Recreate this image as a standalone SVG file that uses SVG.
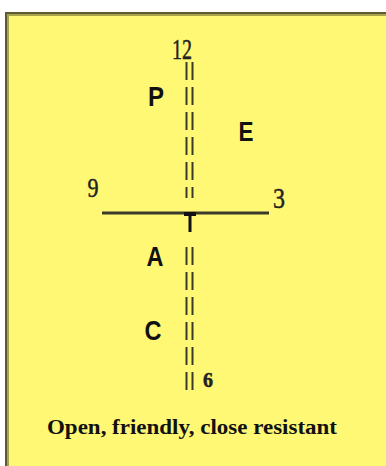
<svg xmlns="http://www.w3.org/2000/svg" width="386" height="466" viewBox="0 0 386 466">
  <style>
    .letter { font-family: "Liberation Sans", Arial, sans-serif; font-weight: bold; font-size: 28px; fill: #111; }
    .num { font-family: "Liberation Serif", "Times New Roman", serif; fill: #222; stroke: #222; stroke-width: 0.5; }
    .axis { stroke: #3a3a2a; stroke-width: 3; fill: none; }
    .dash { stroke: #3a3a2a; stroke-width: 2; stroke-dasharray: 18 7; fill: none; }
  </style>
  <rect x="0" y="0" width="386" height="466" fill="#ffffff"/>
  <rect x="5" y="12" width="381" height="454" fill="#fff874"/>
  <rect x="5" y="12" width="381" height="2" fill="#5e5b2e"/>
  <rect x="7" y="14" width="379" height="2" fill="#a8a24e"/>
  <rect x="5" y="12" width="2" height="454" fill="#5e5b2e"/>
  <rect x="7" y="14" width="2" height="452" fill="#a8a24e"/>

  <g id="connectors">
    <line class="dash" x1="186.5" y1="62" x2="186.5" y2="198"/>
    <line class="dash" x1="192.5" y1="62" x2="192.5" y2="198"/>
    <line class="dash" x1="186.5" y1="247" x2="186.5" y2="390"/>
    <line class="dash" x1="192.5" y1="247" x2="192.5" y2="390"/>
    <line class="axis" x1="102" y1="213" x2="269" y2="213"/>
    <line x1="184" y1="214" x2="196" y2="214" stroke="#111" stroke-width="4"/>
    <line x1="190" y1="213" x2="190" y2="232" stroke="#111" stroke-width="3"/>
  </g>

  <g id="n12"><text class="num" x="182" y="59" font-size="30" text-anchor="middle" textLength="20" lengthAdjust="spacingAndGlyphs">12</text></g>
  <g id="n9"><text class="num" x="93" y="197" font-size="28" text-anchor="middle" textLength="11" lengthAdjust="spacingAndGlyphs">9</text></g>
  <g id="n3"><text class="num" x="279" y="208" font-size="30" text-anchor="middle" textLength="12" lengthAdjust="spacingAndGlyphs">3</text></g>
  <g id="n6"><text class="num" x="208" y="387" font-size="20" text-anchor="middle" font-weight="bold">6</text></g>

  <g id="P"><text class="letter" x="156" y="106" text-anchor="middle" textLength="16" lengthAdjust="spacingAndGlyphs">P</text></g>
  <g id="E"><text class="letter" x="246" y="141" text-anchor="middle" textLength="15" lengthAdjust="spacingAndGlyphs">E</text></g>
  <g id="A"><text class="letter" x="155" y="266" text-anchor="middle" textLength="17" lengthAdjust="spacingAndGlyphs">A</text></g>
  <g id="C"><text class="letter" x="153" y="340" text-anchor="middle" textLength="17" lengthAdjust="spacingAndGlyphs">C</text></g>

  <g id="caption"><text x="47" y="434" font-family="'Liberation Serif', 'Times New Roman', serif" font-size="20" font-weight="bold" fill="#111" textLength="290" lengthAdjust="spacingAndGlyphs">Open, friendly, close resistant</text></g>
</svg>
